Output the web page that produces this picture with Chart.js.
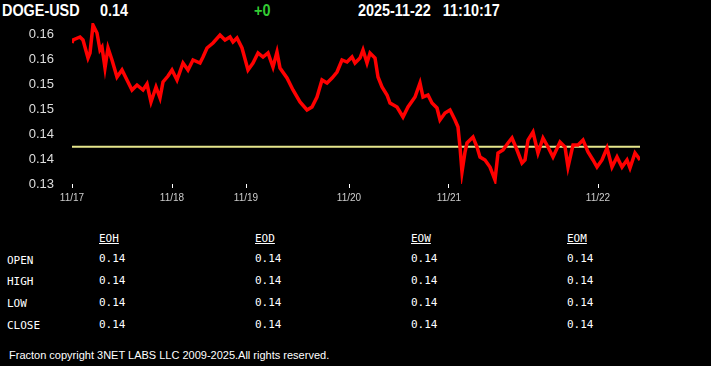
<!DOCTYPE html>
<html>
<head>
<meta charset="utf-8">
<script src="https://cdn.jsdelivr.net/npm/chart.js@4/dist/chart.umd.min.js"></script>
<style>
  html, body { margin: 0; padding: 0; background: #000; width: 711px; height: 366px; overflow: hidden; }
  .hdr { position: absolute; top: 2px; font: bold 16px "Liberation Sans", Arial, sans-serif; color: #fff; transform: scaleX(0.9); transform-origin: left top; white-space: pre; }
  #chartBox { position: absolute; left: 0; top: 0; width: 711px; height: 212px; }
  .tbl { position: absolute; font: 11px "DejaVu Sans Mono", monospace; color: #fff; white-space: pre; }
  .u { text-decoration: underline; }
  #footer { position: absolute; left: 9px; top: 349px; font: 11px "Liberation Sans", Arial, sans-serif; color: #fff; white-space: pre; }
</style>
</head>
<body>
<div class="hdr" style="left:2px">DOGE-USD</div>
<div class="hdr" style="left:100px">0.14</div>
<div class="hdr" style="left:254px;color:#3c3">+0</div>
<div class="hdr" style="left:358px">2025-11-22   11:10:17</div>
<div id="chartBox"><canvas id="priceChart"></canvas></div>
<div id="table"></div>
<div id="footer">Fracton copyright 3NET LABS LLC 2009-2025.All rights reserved.</div>
<script>
// Kursverlauf (x = Stichprobenindex, y = Preis)
const sampleIdx = [0, 1, 8, 11, 16, 18, 21, 25, 28, 30, 33, 36, 40, 45, 50, 55, 60, 65, 71, 75, 79, 84, 88, 91, 96,
  100, 105, 111, 116, 121, 128, 131, 135, 141, 148, 153, 158, 161, 165, 170, 176, 181, 186, 191, 196, 201, 205, 208,
  215, 221, 228, 235, 240, 245, 250, 255, 260, 265, 270, 275, 280, 283, 288, 291, 295, 298, 303, 306, 310, 315, 318,
  325, 331, 336, 343, 348, 351, 356, 360, 365, 368, 373, 378, 383, 386, 388, 390, 393, 395, 401, 405, 408, 413, 418,
  423, 426, 431, 436, 440, 445, 450, 453, 456, 461, 466, 471, 476, 481, 488, 493, 496, 501, 506, 511, 516, 521, 525,
  530, 535, 540, 545, 550, 555, 558, 563, 566, 568];
const prices = [0.1612, 0.1618, 0.1624, 0.1618, 0.1582, 0.1592, 0.1648, 0.1632, 0.1598, 0.1604, 0.1562, 0.1602, 0.1578,
  0.1544, 0.1558, 0.1538, 0.1518, 0.1528, 0.1518, 0.1530, 0.1494, 0.1524, 0.1502, 0.1534, 0.1546,
  0.1558, 0.1538, 0.1572, 0.1558, 0.1578, 0.1572, 0.1584, 0.1602, 0.1612, 0.1628, 0.1618, 0.1624, 0.1614, 0.1622,
  0.1602, 0.1558, 0.1572, 0.1592, 0.1584, 0.1592, 0.1564, 0.1594, 0.1562,
  0.1542, 0.1518, 0.1494, 0.1478, 0.1484, 0.1504, 0.1538, 0.1532, 0.1542, 0.1554, 0.1578, 0.1574, 0.1584, 0.1572,
  0.1582, 0.1598, 0.1572, 0.1592, 0.1582, 0.1544, 0.1524, 0.1508, 0.1492,
  0.1484, 0.1464, 0.1484, 0.1504, 0.1532, 0.1504, 0.1508, 0.1492, 0.1482, 0.1458, 0.1472, 0.1478, 0.1458, 0.1444,
  0.1404, 0.1354, 0.1394, 0.1412, 0.1424, 0.1404, 0.1384, 0.1378, 0.1364,
  0.1338, 0.1392, 0.1398, 0.1412, 0.1422, 0.1398, 0.1372, 0.1378, 0.1418, 0.1434, 0.1392, 0.1422, 0.1404, 0.1384,
  0.1414, 0.1404, 0.1364, 0.1408, 0.1408, 0.1418, 0.1394, 0.1378, 0.1364,
  0.1378, 0.1402, 0.1364, 0.1384, 0.1364, 0.1378, 0.1362, 0.1392, 0.1384, 0.1378];
const prevClose = 0.14046;

// Achsenbeschriftungen
const xTickIdx = [0, 100, 174, 277, 377, 526];
const xTickLabels = ["11/17", "11/18", "11/19", "11/20", "11/21", "11/22"];
const yTickValues = [0.133, 0.138, 0.143, 0.148, 0.153, 0.158, 0.163];
const yTickLabels = ["0.13", "0.14", "0.14", "0.15", "0.15", "0.16", "0.16"];

// Tabelle
const colHeads = ["EOH", "EOD", "EOW", "EOM"];
const rowHeads = ["OPEN", "HIGH", "LOW", "CLOSE"];
const tableValues = [
  ["0.14", "0.14", "0.14", "0.14"],
  ["0.14", "0.14", "0.14", "0.14"],
  ["0.14", "0.14", "0.14", "0.14"],
  ["0.14", "0.14", "0.14", "0.14"]
];

function buildTable() {
  const t = document.getElementById("table");
  const colX = [99, 255, 411, 567];
  const labelY = [254, 275, 297, 319];
  const valueY = [252, 274, 296, 318];
  colHeads.forEach((h, i) => {
    const d = document.createElement("div");
    d.className = "tbl u";
    d.style.left = colX[i] + "px"; d.style.top = "232px";
    d.textContent = h;
    t.appendChild(d);
  });
  rowHeads.forEach((r, j) => {
    const d = document.createElement("div");
    d.className = "tbl";
    d.style.left = "7px"; d.style.top = labelY[j] + "px";
    d.textContent = r;
    t.appendChild(d);
    tableValues[j].forEach((v, i) => {
      const c = document.createElement("div");
      c.className = "tbl";
      c.style.left = colX[i] + "px"; c.style.top = valueY[j] + "px";
      c.textContent = v;
      t.appendChild(c);
    });
  });
}
buildTable();

const ctx = document.getElementById("priceChart").getContext("2d");
new Chart(ctx, {
  type: "line",
  data: {
    datasets: [
      {
        data: sampleIdx.map((x, i) => ({ x: x, y: prices[i] })),
        borderColor: "#ff0000",
        borderWidth: 3.5,
        pointRadius: 0,
        tension: 0
      },
      {
        data: [{ x: 0, y: prevClose }, { x: 568, y: prevClose }],
        borderColor: "#e6e68c",
        borderWidth: 2,
        pointRadius: 0
      }
    ]
  },
  options: {
    responsive: true,
    maintainAspectRatio: false,
    animation: false,
    layout: { padding: { top: 23, right: 71, left: 0, bottom: 0 } },
    plugins: { legend: { display: false }, tooltip: { enabled: false } },
    scales: {
      x: {
        type: "linear",
        min: 0,
        max: 568,
        afterBuildTicks: s => { s.ticks = xTickIdx.map(v => ({ value: v })); },
        afterFit: s => { s.height = 28; },
        grid: { drawOnChartArea: false, drawTicks: true, tickLength: 4, color: "#fff" },
        border: { display: false },
        ticks: {
          color: "#ccc",
          font: { family: "Liberation Sans", size: 10 },
          padding: 4,
          maxRotation: 0,
          autoSkip: false,
          callback: (v) => xTickLabels[xTickIdx.indexOf(v)]
        }
      },
      y: {
        min: 0.133,
        max: 0.1652,
        afterBuildTicks: s => { s.ticks = yTickValues.map(v => ({ value: v })); },
        afterFit: s => { s.width = 72; },
        grid: { display: false },
        border: { display: false },
        ticks: {
          color: "#ddd",
          font: { family: "Liberation Sans", size: 13 },
          padding: 10,
          callback: (v) => yTickLabels[yTickValues.indexOf(v)]
        }
      }
    }
  }
});
</script>
</body>
</html>
